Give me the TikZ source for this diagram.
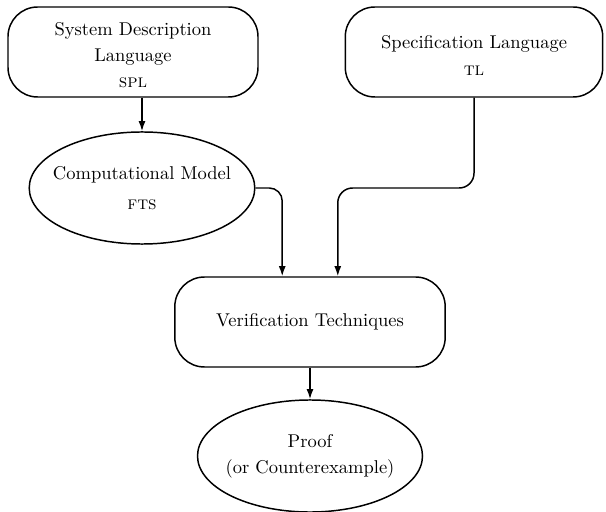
\documentclass[tikz,border=0pt]{standalone}
\usepackage{tikz}
\usetikzlibrary{positioning, arrows.meta, shapes.geometric}

\begin{document}
\begin{tikzpicture}[
    x=0.54pt, y=-0.54pt,
    rblock/.style={rectangle, draw, thick, rounded corners=16pt,
                   minimum height=48.6pt, align=center, inner sep=2pt},
    eblock/.style={ellipse, draw, thick, minimum width=121.5pt,
                   minimum height=60.5pt, align=center, inner xsep=-5pt, inner ysep=1pt},
    arr/.style={-{Latex[length=5.5pt, width=3.8pt]}, thick},
  ]
    \useasboundingbox (0,0) rectangle (606,512);

    % --- top row ---
    \node[rblock, minimum width=135pt] (sdl)  at (133,52)
      {\rule{0pt}{10pt}System Description\\[2pt] Language\\[2pt] \textsc{spl}};
    \node[rblock, minimum width=139pt] (spec) at (474,52)
      {\rule{0pt}{11pt}Specification Language\\[2.6pt] \textsc{tl}};

    % --- model ---
    \node[eblock] (comp) at (142,188) {Computational Model\\[4pt] \textsc{fts}};

    % --- verification + result ---
    \node[rblock, minimum width=146pt] (verif) at (310,322) {Verification Techniques};
    \node[eblock] (proof) at (310,456) {Proof\\[2pt] (or Counterexample)};

    % --- arrows ---
    \draw[arr] (comp.north |- sdl.south) -- (comp.north);
    \draw[arr, rounded corners=7pt] (comp.east) -| ([xshift=-15pt]verif.north);
    \draw[arr, rounded corners=8pt] (spec.south) |- ([xshift=15pt]verif.north |- comp.east)
      -- ([xshift=15pt]verif.north);
    \draw[arr] (verif) -- (proof);
  \end{tikzpicture}
\end{document}
